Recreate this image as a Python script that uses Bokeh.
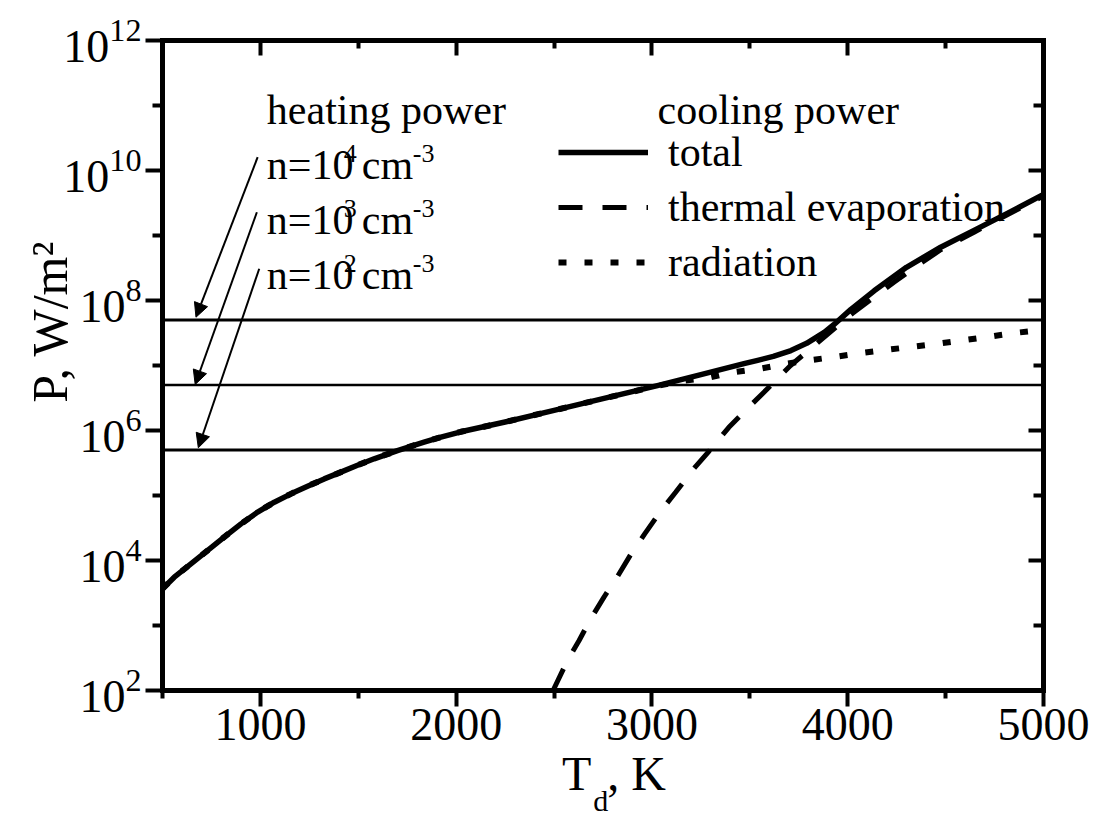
from bokeh.plotting import figure
from bokeh.models import (FixedTicker, LogAxis, LinearAxis, Span, Arrow, NormalHead,
                          Legend, LegendItem, ColumnDataSource, LogTickFormatter,
                          CustomJSTickFormatter)
from bokeh.core.properties import value
from bokeh.embed import file_html
from bokeh.resources import INLINE

# ---------------- data ----------------
T_total = [500, 560, 645, 731, 815, 901, 986, 1071, 1156, 1241, 1326, 1411, 1493, 1581,
           1700, 1836, 1922, 2024, 2250, 2500, 2750, 3028, 3250, 3470, 3540, 3620, 3710,
           3790, 3880, 3930, 4015, 4135, 4300, 4475, 4645, 4815, 5000]
P_total = [3.67e3, 5.53e3, 8.89e3, 1.43e4, 2.29e4, 3.66e4, 5.55e4, 7.89e4, 1.06e5,
           1.39e5, 1.80e5, 2.29e5, 2.90e5, 3.67e5, 4.90e5, 6.61e5, 7.89e5, 9.55e5,
           1.35e6, 2.04e6, 3.09e6, 4.90e6, 7.24e6, 1.07e7, 1.20e7, 1.38e7, 1.70e7,
           2.19e7, 3.24e7, 4.27e7, 7.24e7, 1.41e8, 3.24e8, 6.61e8, 1.20e9, 2.19e9,
           4.27e9]

T_rad = [500, 560, 645, 731, 815, 901, 986, 1071, 1156, 1241, 1326, 1411, 1493, 1581,
         1700, 1836, 1922, 2024, 2250, 2500, 2750, 3028, 3150, 3300, 3400, 3550, 3675,
         3800, 3930, 4065, 4200, 4475, 4715, 4850, 5000]
P_rad = [3.67e3, 5.53e3, 8.89e3, 1.43e4, 2.29e4, 3.66e4, 5.55e4, 7.89e4, 1.06e5,
         1.39e5, 1.80e5, 2.29e5, 2.90e5, 3.67e5, 4.90e5, 6.61e5, 7.89e5, 9.55e5,
         1.35e6, 2.04e6, 3.09e6, 4.85e6, 5.75e6, 6.61e6, 7.76e6, 8.91e6, 1.05e7,
         1.20e7, 1.35e7, 1.55e7, 1.74e7, 2.19e7, 2.75e7, 3.16e7, 3.55e7]

T_evap = [2495, 2568, 2628, 2687, 2755, 2824, 2892, 2963, 3041, 3121, 3210, 3291, 3393,
          3495, 3606, 3708, 3819, 3921, 4023, 4134, 4236, 4346, 4475, 4645, 4815, 5000]
P_evap = [1.0e2, 2.88e2, 5.89e2, 1.26e3, 2.73e3, 5.68e3, 1.24e4, 2.57e4, 5.55e4,
          1.12e5, 2.51e5, 4.79e5, 1.12e6, 2.29e6, 4.90e6, 1.0e7, 1.91e7, 3.47e7,
          6.31e7, 1.12e8, 1.91e8, 3.31e8, 6.03e8, 1.12e9, 2.09e9, 4.07e9]

heating_levels = [5e7, 5e6, 5e5]
heating_exponents = ["4", "3", "2"]

x_major = [1000, 2000, 3000, 4000, 5000]
x_minor = [500, 1500, 2500, 3500, 4500]
y_major = [1e2, 1e4, 1e6, 1e8, 1e10, 1e12]
y_minor = [1e3, 1e5, 1e7, 1e9, 1e11]

# x-axis title pieces: "T", subscript "d", ", K" (anchored at x-axis values)
xtitle_main = {2616: "T", 2922: ", K"}
xtitle_sub = {2738: "d"}

FONT = "Liberation Serif"

# ---------------- figure ----------------
p = figure(width=1106, height=819, x_range=(500, 5000), y_range=(1e2, 1e12),
           y_axis_type="log", output_backend="svg", toolbar_location=None,
           min_border_left=162, min_border_right=63, min_border_top=40,
           min_border_bottom=128, background_fill_color="white",
           border_fill_color="white")
p.outline_line_color = None
p.grid.visible = False

xt = FixedTicker(ticks=x_major, minor_ticks=x_minor)
yt = FixedTicker(ticks=y_major, minor_ticks=y_minor)

def style_axis(ax, tin, tout, mtin, mtout):
    ax.axis_line_width = 5
    ax.axis_line_cap = "square"
    ax.major_tick_line_width = 4
    ax.minor_tick_line_width = 4
    ax.major_tick_in = tin
    ax.major_tick_out = tout
    ax.minor_tick_in = mtin
    ax.minor_tick_out = mtout
    ax.axis_line_color = "black"
    ax.major_tick_line_color = "black"
    ax.minor_tick_line_color = "black"

xa = p.xaxis[0]
xa.ticker = xt
style_axis(xa, 0, 16, 0, 8)
xa.major_label_text_font = FONT
xa.major_label_text_font_size = "46px"
xa.major_label_text_color = "black"
xa.major_label_standoff = 2

ya = p.yaxis[0]
ya.ticker = yt
ya.formatter = LogTickFormatter()
style_axis(ya, 0, 17, 0, 10)
ya.major_label_text_font = FONT
ya.major_label_text_font_size = "46px"
ya.major_label_text_color = "black"
ya.major_label_standoff = 4
ya.axis_label = "\u00a0" * 7 + "P, W/m\u00b2"
ya.axis_label_text_font = FONT
ya.axis_label_text_font_size = "50px"
ya.axis_label_text_font_style = "normal"
ya.axis_label_text_color = "black"
ya.axis_label_standoff = -18

blank = CustomJSTickFormatter(code="return ''")
top = LinearAxis(ticker=xt, formatter=blank)
style_axis(top, 15, 0, 8, 0)
p.add_layout(top, "above")
right = LogAxis(ticker=yt, formatter=blank)
style_axis(right, 15, 0, 10, 0)
p.add_layout(right, "right")

# x-axis title built from two label-only axes (main text, then the subscript)
def title_axis(mapping, size, standoff):
    ax = LinearAxis(ticker=FixedTicker(ticks=list(mapping.keys()), minor_ticks=[]),
                    major_label_overrides=mapping)
    ax.axis_line_color = None
    ax.major_tick_line_color = None
    ax.minor_tick_line_color = None
    ax.major_tick_in = 0
    ax.major_tick_out = 0
    ax.minor_tick_in = 0
    ax.minor_tick_out = 0
    ax.major_label_text_font = FONT
    ax.major_label_text_font_size = size
    ax.major_label_text_color = "black"
    ax.major_label_standoff = standoff
    p.add_layout(ax, "below")

title_axis(xtitle_main, "48px", 4)
title_axis(xtitle_sub, "30px", -19)

# ---------------- heating power levels ----------------
for lvl, w in zip(heating_levels, [3, 2.5, 3]):
    p.add_layout(Span(location=lvl, dimension="width", line_color="black", line_width=w))

# ---------------- curves ----------------
r_rad = p.line(T_rad, P_rad, line_color="black", line_width=6, line_dash="8 18")
r_evap = p.line(T_evap, P_evap, line_color="black", line_width=5, line_dash="24 20")
r_tot = p.line(T_total, P_total, line_color="black", line_width=5.5, line_join="round")

legend = Legend(items=[LegendItem(label="total", renderers=[r_tot]),
                       LegendItem(label="thermal evaporation", renderers=[r_evap]),
                       LegendItem(label="radiation", renderers=[r_rad])],
                location=(396, 404), padding=0, margin=0, border_line_color=None,
                background_fill_alpha=0, label_text_font=FONT,
                label_text_font_size="42px", label_text_color="black",
                glyph_width=90, glyph_height=48, label_height=48, spacing=7,
                label_standoff=20)
p.add_layout(legend)

# ---------------- text annotations ----------------
head_src = ColumnDataSource(dict(x=[1033, 3029], y=[10**10.938, 10**10.938],
                                 t=["heating power", "cooling power"]))
p.text(x="x", y="y", text="t", source=head_src, text_font=value(FONT),
       text_font_size="42px", text_baseline="alphabetic", text_align="left",
       text_color="black")

n_y = [10**10.077, 10**9.231, 10**8.385]
big = ColumnDataSource(dict(x=[1033] * 6, y=[n_y[0], n_y[0], n_y[1], n_y[1], n_y[2], n_y[2]],
                            t=["n=10", "cm"] * 3, xo=[0, 95] * 3))
p.text(x="x", y="y", text="t", x_offset="xo", source=big, text_font=value(FONT),
       text_font_size="42px", text_baseline="alphabetic", text_align="left",
       text_color="black")
sup_t = []
for e in heating_exponents:
    sup_t += [e, "-3"]
sup = ColumnDataSource(dict(x=[1033] * 6, y=[n_y[0], n_y[0], n_y[1], n_y[1], n_y[2], n_y[2]],
                            t=sup_t, xo=[77, 146] * 3, yo=[-12] * 6))
p.text(x="x", y="y", text="t", x_offset="xo", y_offset="yo", source=sup,
       text_font=value(FONT), text_font_size="26px", text_baseline="alphabetic",
       text_align="left", text_color="black")

# arrows from labels to the heating lines
arrows = [(986, 10**10.205, 671, 10**7.743),
          (982, 10**9.358, 667, 10**6.708),
          (994, 10**8.488, 683, 10**5.734)]
for xs, ys, xe, ye in arrows:
    p.add_layout(Arrow(x_start=xs, y_start=ys, x_end=xe, y_end=ye, line_width=2,
                       line_color="black",
                       end=NormalHead(size=14, fill_color="black", line_color="black",
                                      line_width=1)))

open("out.html", "w").write(file_html(p, INLINE))
